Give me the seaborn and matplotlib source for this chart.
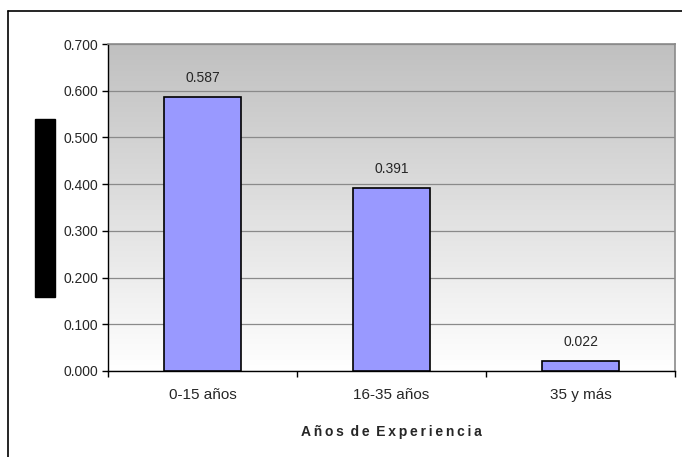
import matplotlib
matplotlib.use("Agg")
from matplotlib import pyplot as plt
from matplotlib.colors import LinearSegmentedColormap
from matplotlib.lines import Line2D
from matplotlib.patches import Rectangle
import numpy as np
import pandas as pd
import seaborn as sns

# Experience bands and their shares
categorias = ['0-15 años', '16-35 años', '35 y más']
valores = [0.587, 0.391, 0.022]
yticks = [0.0, 0.1, 0.2, 0.3, 0.4, 0.5, 0.6, 0.7]
xlabel = 'Años de Experiencia'

df = pd.DataFrame({'Experiencia': categorias, 'Valor': valores})

sns.set_style("white")
plt.rcParams['font.family'] = ['Liberation Sans', 'DejaVu Sans']

fig = plt.figure(figsize=(6.82, 4.57), dpi=100)
ax = fig.add_axes([108 / 682, 1 - 371 / 457, 567 / 682, 327 / 457])

# gray-to-white gradient background
grad = np.linspace(0, 1, 256).reshape(-1, 1)
cmap = LinearSegmentedColormap.from_list('g', ['#ffffff', '#c0c0c0'])
ax.imshow(grad, extent=[-0.5, 2.5, 0, 0.7], aspect='auto', cmap=cmap, origin='lower', zorder=0)

sns.barplot(data=df, x='Experiencia', y='Valor', color='#9999ff', edgecolor='black',
            linewidth=1.2, width=0.41, saturation=1, ax=ax, zorder=3)

ax.set_xlim(-0.5, 2.5)
ax.set_ylim(0, 0.7)
ax.set_yticks(yticks)
ax.set_yticklabels([f'{v:.3f}' for v in yticks], fontsize=10)
ax.yaxis.grid(True, color='#8a8a8a', linewidth=0.9, zorder=1)
ax.set_axisbelow(True)

ax.set_xticks([0, 1, 2])
ax.set_xticklabels(categorias, fontsize=11)
ax.set_xticks([-0.5, 0.5, 1.5, 2.5], minor=True)
ax.tick_params(axis='x', which='major', length=0, pad=12)
ax.tick_params(axis='x', which='minor', length=4, width=1, color='black', direction='out', bottom=True)
ax.tick_params(axis='y', length=4, width=1, color='black', direction='out', left=True, pad=3)

for i, v in enumerate(valores):
    ax.text(i, v + 0.0405, f'{v:.3f}', ha='center', va='center', fontsize=10, zorder=4)

for s in ['left', 'bottom']:
    ax.spines[s].set_color('black')
    ax.spines[s].set_linewidth(1)
for s in ['top', 'right']:
    ax.spines[s].set_color('#8a8a8a')
    ax.spines[s].set_linewidth(1.2)

# letter-spaced bold axis title
spaced = ' \u2009'.join('\u2009'.join(w) for w in xlabel.split(' '))
ax.set_ylabel('')
ax.set_xlabel(spaced, fontsize=10, fontweight='bold', labelpad=17)

# redacted y-axis label block
fig.add_artist(Rectangle((35 / 682, 1 - 297 / 457), 20 / 682, 178 / 457,
                         transform=fig.transFigure, color='black'))

# outer chart frame (left and top edges visible)
fig.add_artist(Line2D([8 / 682, 8 / 682], [0, 1 - 11 / 457], color='black', linewidth=1.2,
                      transform=fig.transFigure))
fig.add_artist(Line2D([8 / 682, 1], [1 - 11 / 457, 1 - 11 / 457], color='black', linewidth=1.2,
                      transform=fig.transFigure))

plt.savefig('out.png', dpi=100)
